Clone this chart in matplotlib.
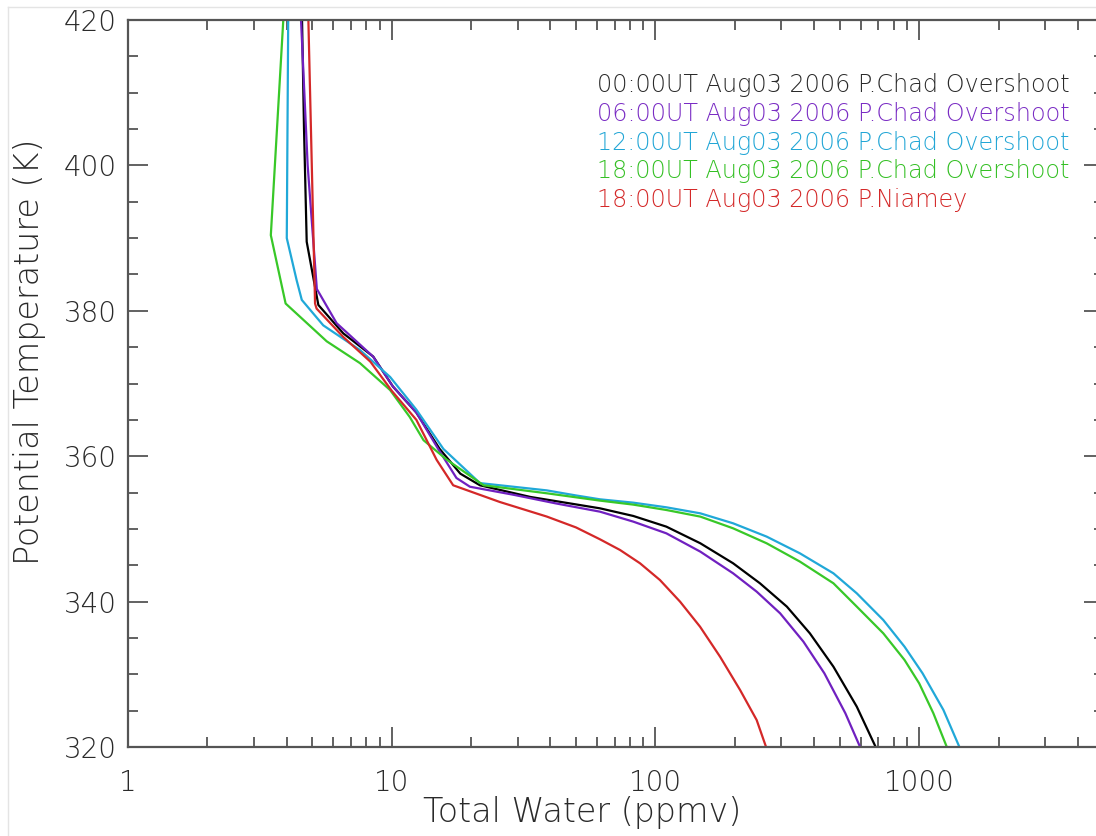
import numpy as np
import matplotlib
matplotlib.use("Agg")
import matplotlib.pyplot as plt
from matplotlib.ticker import FixedLocator, LogLocator, MultipleLocator, NullFormatter, FuncFormatter
from matplotlib.lines import Line2D

# potential temperature (K) and total water (ppmv)
theta_00 = [420, 405, 389.5, 380.8, 376.9, 373.7, 369.6, 366, 361, 357.6, 356, 354.4, 352.83, 351.78,
            350.31, 348.02, 345.27, 342.52, 339.31, 335.64, 331.05, 325.55, 320]
water_00 = [4.57, 4.65, 4.76, 5.27, 6.55, 8.51, 10.1, 12.4, 15.2, 18.2, 21.6, 33.5, 61.6, 82.4,
            110, 148, 197, 249, 315, 385, 473, 580, 684]

theta_06 = [420, 400, 383, 378.3, 373.7, 369.6, 366, 361, 357, 355.8, 354.7, 353.5, 352.37, 351.0,
            349.39, 346.87, 343.89, 341.37, 338.39, 334.49, 330.14, 324.64, 320]
water_06 = [4.53, 4.8, 5.2, 6.18, 8.5, 10.1, 12.4, 15.0, 17.6, 19.8, 28.9, 42, 61.6, 82.4,
            110, 148, 197, 242, 297, 364, 437, 525, 597]

theta_12 = [420, 390, 384.2, 381.5, 378, 374.6, 370.9, 366.4, 361, 356.3, 355.3, 354.6, 354.07, 353.61,
            352.97, 352.14, 350.77, 348.94, 346.64, 343.89, 341.14, 337.47, 333.8, 330.14, 325.09, 320]
water_12 = [4.05, 4.0, 4.36, 4.56, 5.5, 7.58, 9.86, 12.4, 15.7, 21.6, 38.7, 50, 61.6, 82.4,
            110, 148, 197, 264, 353, 473, 580, 731, 880, 1030, 1236, 1421]

theta_18 = [420, 390.4, 381, 375.8, 372.8, 369.1, 365.4, 362.2, 359.5, 356, 354.9, 353.89, 353.34,
            352.6, 351.69, 350.08, 348.02, 345.5, 342.52, 339.31, 335.64, 331.97, 328.76, 324.64, 320]
water_18 = [3.88, 3.48, 3.96, 5.67, 7.58, 9.86, 11.7, 13.2, 16.2, 22.3, 38.7, 61.6, 82.4,
            110, 148, 197, 264, 353, 473, 580, 731, 880, 1000, 1132, 1273]

theta_ny = [420, 381, 380.3, 376.4, 373, 369, 365, 359.5, 356, 353.7, 351.7, 350.2, 348.57, 347.1,
            345.27, 342.97, 339.99, 336.55, 332.42, 327.84, 323.71, 320]
water_ny = [4.83, 5.12, 5.19, 6.55, 8.3, 10.0, 12.4, 14.8, 17.1, 25.7, 38.7, 50, 61.6, 73.4,
            87.4, 104, 124, 147.6, 175.8, 209.4, 242, 262.7]

labels = ["00:00UT Aug03 2006 P.Chad Overshoot",
          "06:00UT Aug03 2006 P.Chad Overshoot",
          "12:00UT Aug03 2006 P.Chad Overshoot",
          "18:00UT Aug03 2006 P.Chad Overshoot",
          "18:00UT Aug03 2006 P.Niamey"]
colors = ["#000000", "#7020c0", "#20a8d8", "#38c828", "#d42828"]
text_colors = ["#2a2a2a", "#7a2cc4", "#22a6d6", "#34c024", "#d42828"]

series = [(water_00, theta_00), (water_06, theta_06), (water_12, theta_12),
          (water_18, theta_18), (water_ny, theta_ny)]

plt.rcParams["font.family"] = ["DejaVu Sans"]
plt.rcParams["font.weight"] = "light"
plt.rcParams["axes.labelweight"] = "light"

W, H = 1096, 836
fig = plt.figure(figsize=(W / 100, H / 100), dpi=100)
ax = fig.add_axes([128 / W, 1 - 747 / H, (1103.5 - 128) / W, (747 - 20) / H])

axis_col = "#555555"
txt_col = "#2a2a2a"

for (w, t), c in zip(series, colors):
    ax.plot(w, t, color=c, lw=1.6, solid_joinstyle="round")

ax.set_xscale("log")
ax.set_xlim(1, 5000)
ax.set_ylim(320, 420)

ax.xaxis.set_major_locator(FixedLocator([1, 10, 100, 1000]))
ax.xaxis.set_major_formatter(FuncFormatter(lambda v, p: "%d" % round(v)))
ax.xaxis.set_minor_locator(LogLocator(base=10, subs=np.arange(2, 10)))
ax.xaxis.set_minor_formatter(NullFormatter())
ax.yaxis.set_major_locator(MultipleLocator(20))
ax.yaxis.set_minor_locator(MultipleLocator(5))

for s in ax.spines.values():
    s.set_color(axis_col)
    s.set_linewidth(1.6)

ax.tick_params(which="both", direction="in", top=True, right=True, colors=axis_col, width=1.3)
ax.tick_params(which="major", length=14.5)
ax.tick_params(which="minor", length=7.5)
ax.tick_params(axis="x", which="major", pad=16, labelsize=20, labelcolor=txt_col)
ax.tick_params(axis="y", which="major", pad=8, labelsize=20, labelcolor=txt_col)

ax.set_xlabel("Total Water (ppmv)", fontsize=24, color=txt_col, fontweight="light")
ax.set_ylabel("Potential Temperature (K)", fontsize=24, color=txt_col, fontweight="light")
ax.xaxis.set_label_coords(0.466, -0.068)
ax.yaxis.set_label_coords(-0.084, 0.543)

for i, (lab, tc) in enumerate(zip(labels, text_colors)):
    fig.text(597 / W, 1 - (85 + 28.8 * i) / H, lab, color=tc, fontsize=17.2,
             ha="left", va="center")

# light frame of the original screenshot
fig.add_artist(Line2D([8 / W, 1], [1 - 7 / H, 1 - 7 / H], color="#e4e4e4", lw=1))
fig.add_artist(Line2D([8 / W, 8 / W], [0, 1 - 7 / H], color="#e4e4e4", lw=1))

fig.savefig("out.png", dpi=100)
